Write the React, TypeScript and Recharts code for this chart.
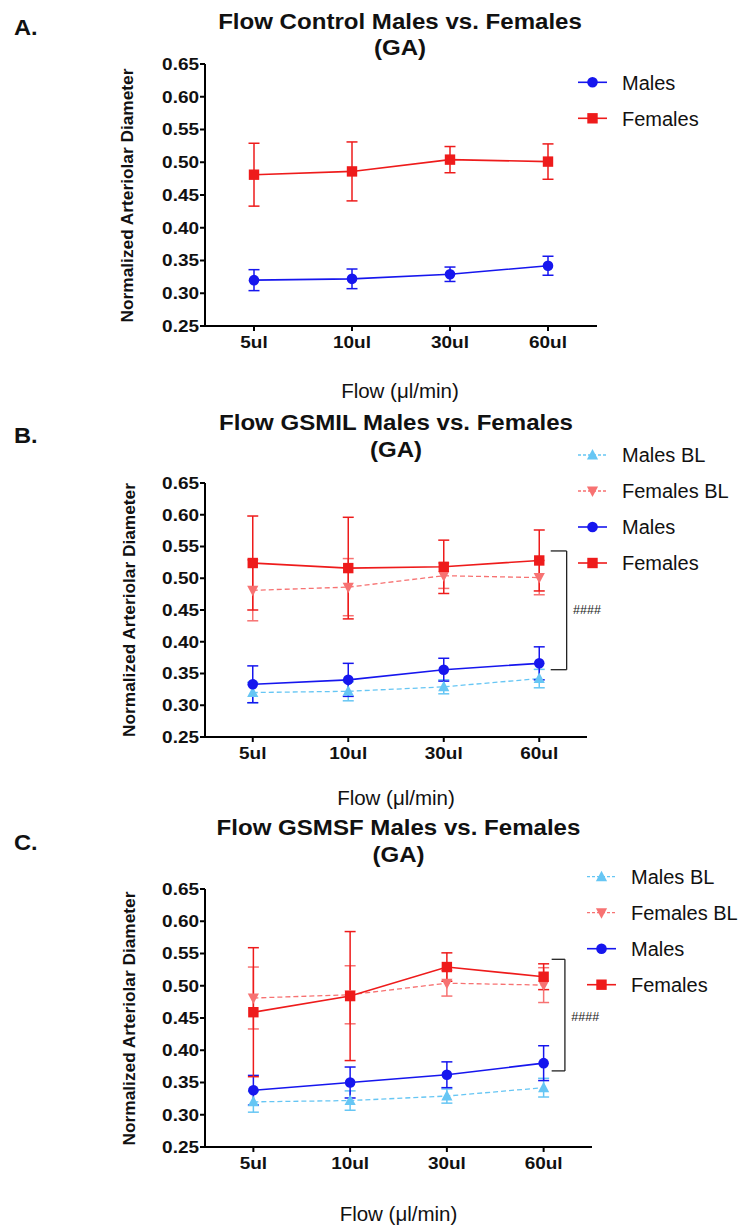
import React from 'react';
import { LineChart, Line, XAxis, YAxis, ErrorBar, ReferenceLine, ReferenceDot } from 'recharts';

// ---------- data ----------
const categories = ['5ul', '10ul', '30ul', '60ul'];
const yTicks = [0.25, 0.3, 0.35, 0.4, 0.45, 0.5, 0.55, 0.6, 0.65];
const xLabel = 'Flow (\u03bcl/min)';
const yLabel = 'Normalized Arteriolar Diameter';

// Panel A: control (also the baseline "BL" series of panels B and C)
const controlMales = [0.32, 0.322, 0.329, 0.342];
const controlMalesErr = [0.016, 0.015, 0.011, 0.0145];
const controlFemales = [0.481, 0.486, 0.504, 0.501];
const controlFemalesErr = [0.048, 0.045, 0.02, 0.027];

// Panel B: GSMIL
const gsmilMales = [0.333, 0.34, 0.356, 0.366];
const gsmilMalesErr = [0.029, 0.026, 0.018, 0.026];
const gsmilFemales = [0.524, 0.516, 0.518, 0.528];
const gsmilFemalesErr = [0.074, 0.08, 0.042, 0.048];

// Panel C: GSMSF
const gsmsfMales = [0.338, 0.35, 0.362, 0.38];
const gsmsfMalesErr = [0.023, 0.024, 0.02, 0.027];
const gsmsfFemales = [0.459, 0.484, 0.529, 0.514];
const gsmsfFemalesErr = [0.1, 0.1, 0.022, 0.02];

// significance brackets [x-start, x-end, y-top, y-bottom, label-x, label-y]
const bracketB = [3.62, 3.787, 0.543, 0.356, 4.0, 0.45];
const bracketC = [3.583, 3.72, 0.541, 0.368, 3.93, 0.453];
const sigLabel = '####';

// ---------- style ----------
const FONT = 'Liberation Sans, Arial, sans-serif';
const C_MALES = '#1616ee';
const C_FEMALES = '#ee1b1b';
const C_MALES_BL = '#66c6f4';
const C_FEMALES_BL = '#f77272';

type Shape = 'circle' | 'square' | 'up' | 'down';
type Series = { key: string; name: string; color: string; dashed: boolean; shape: Shape; values: number[]; errs: number[] };

const Marker = ({ shape, cx, cy, color }: { shape: Shape; cx: number; cy: number; color: string }) => {
  if (shape === 'circle') return <circle cx={cx} cy={cy} r={5.3} fill={color} />;
  if (shape === 'square') return <rect x={cx - 5.2} y={cy - 5.2} width={10.4} height={10.4} fill={color} />;
  if (shape === 'up')
    return <polygon points={`${cx},${cy - 6} ${cx + 5.6},${cy + 4.5} ${cx - 5.6},${cy + 4.5}`} fill={color} />;
  return <polygon points={`${cx},${cy + 6} ${cx + 5.6},${cy - 4.5} ${cx - 5.6},${cy - 4.5}`} fill={color} />;
};

const XTick = (props: any) => {
  const { x, y, payload } = props;
  const label = categories[Math.floor(payload.value)];
  return (
    <g transform={`translate(${x},${y}) scale(1.15,1)`}>
      <text x={0} y={0} dy="0.71em" textAnchor="middle" fontFamily={FONT} fontWeight="bold" fontSize={16.5} fill="#111">
        {label}
      </text>
    </g>
  );
};

const YTick = (props: any) => {
  const { x, y, payload } = props;
  return (
    <g transform={`translate(${x},${y}) scale(1.15,1)`}>
      <text x={0} y={0} dy="0.355em" textAnchor="end" fontFamily={FONT} fontWeight="bold" fontSize={16.5} fill="#111">
        {Number(payload.value).toFixed(2)}
      </text>
    </g>
  );
};

type Panel = {
  top: number;
  height: number;
  plotTop: number;
  plotBottom: number;
  plotRight: number;
  series: Series[];
  bracket?: number[];
};

const PanelChart = ({ p }: { p: Panel }) => {
  const data = categories.map((c, i) => {
    const row: any = { x: i + 0.5, cat: c };
    p.series.forEach((s) => {
      row[s.key] = s.values[i];
      row[s.key + 'Err'] = s.errs[i];
    });
    return row;
  });
  const yAxisW = 60;
  const xAxisH = 30;
  const axisStyle = { stroke: '#000', strokeWidth: 2 };
  return (
    <div style={{ position: 'absolute', left: 0, top: p.top }}>
      <LineChart
        width={741}
        height={p.height}
        data={data}
        margin={{
          top: p.plotTop - p.top,
          right: 741 - p.plotRight,
          bottom: p.top + p.height - p.plotBottom - xAxisH,
          left: 205 - yAxisW,
        }}
      >
        <XAxis
          type="number"
          dataKey="x"
          domain={[0, 4]}
          ticks={[0.5, 1.5, 2.5, 3.5]}
          height={xAxisH}
          axisLine={axisStyle}
          tickLine={axisStyle}
          tickSize={5}
          tickMargin={5}
          tick={<XTick />}
          allowDataOverflow
        />
        <YAxis
          type="number"
          domain={[0.25, 0.65]}
          ticks={yTicks}
          width={yAxisW}
          axisLine={axisStyle}
          tickLine={axisStyle}
          tickSize={5}
          tickMargin={1}
          tick={<YTick />}
          allowDataOverflow
        />
        {p.series.map((s) => (
          <Line
            key={s.key}
            dataKey={s.key}
            name={s.name}
            stroke={s.color}
            strokeWidth={s.dashed ? 1.3 : 1.6}
            strokeDasharray={s.dashed ? '5 3' : undefined}
            isAnimationActive={false}
            dot={(d: any) => <Marker key={`${s.key}-${d.index}`} shape={s.shape} cx={d.cx} cy={d.cy} color={s.color} />}
            activeDot={false}
          >
            <ErrorBar dataKey={s.key + 'Err'} width={5.5} strokeWidth={1.5} stroke={s.color} direction="y" isAnimationActive={false} />
          </Line>
        ))}
        {p.bracket && (
          <ReferenceLine
            segment={[{ x: p.bracket[0], y: p.bracket[2] }, { x: p.bracket[1], y: p.bracket[2] }]}
            stroke="#222"
            strokeWidth={1.3}
            ifOverflow="visible"
          />
        )}
        {p.bracket && (
          <ReferenceLine
            segment={[{ x: p.bracket[1], y: p.bracket[2] }, { x: p.bracket[1], y: p.bracket[3] }]}
            stroke="#222"
            strokeWidth={1.3}
            ifOverflow="visible"
          />
        )}
        {p.bracket && (
          <ReferenceLine
            segment={[{ x: p.bracket[0], y: p.bracket[3] }, { x: p.bracket[1], y: p.bracket[3] }]}
            stroke="#222"
            strokeWidth={1.3}
            ifOverflow="visible"
          />
        )}
        {p.bracket && (
          <ReferenceDot
            x={p.bracket[4]}
            y={p.bracket[5]}
            r={0}
            fill="none"
            stroke="none"
            ifOverflow="visible"
            label={{ value: sigLabel, position: 'center', fontSize: 12.5, fill: '#222', fontFamily: FONT }}
          />
        )}
      </LineChart>
    </div>
  );
};

const seriesA: Series[] = [
  { key: 'males', name: 'Males', color: C_MALES, dashed: false, shape: 'circle', values: controlMales, errs: controlMalesErr },
  { key: 'females', name: 'Females', color: C_FEMALES, dashed: false, shape: 'square', values: controlFemales, errs: controlFemalesErr },
];
const seriesB: Series[] = [
  { key: 'malesBL', name: 'Males BL', color: C_MALES_BL, dashed: true, shape: 'up', values: controlMales, errs: controlMalesErr },
  { key: 'femalesBL', name: 'Females BL', color: C_FEMALES_BL, dashed: true, shape: 'down', values: controlFemales, errs: controlFemalesErr },
  { key: 'males', name: 'Males', color: C_MALES, dashed: false, shape: 'circle', values: gsmilMales, errs: gsmilMalesErr },
  { key: 'females', name: 'Females', color: C_FEMALES, dashed: false, shape: 'square', values: gsmilFemales, errs: gsmilFemalesErr },
];
const seriesC: Series[] = [
  { key: 'malesBL', name: 'Males BL', color: C_MALES_BL, dashed: true, shape: 'up', values: controlMales, errs: controlMalesErr },
  { key: 'femalesBL', name: 'Females BL', color: C_FEMALES_BL, dashed: true, shape: 'down', values: controlFemales, errs: controlFemalesErr },
  { key: 'males', name: 'Males', color: C_MALES, dashed: false, shape: 'circle', values: gsmsfMales, errs: gsmsfMalesErr },
  { key: 'females', name: 'Females', color: C_FEMALES, dashed: false, shape: 'square', values: gsmsfFemales, errs: gsmsfFemalesErr },
];

const panels: Panel[] = [
  { top: 0, height: 400, plotTop: 64, plotBottom: 326, plotRight: 597, series: seriesA },
  { top: 400, height: 400, plotTop: 483, plotBottom: 737, plotRight: 587, series: seriesB, bracket: bracketB },
  { top: 800, height: 426, plotTop: 889, plotBottom: 1147, plotRight: 592, series: seriesC, bracket: bracketC },
];

type Deco = {
  letter: string;
  letterY: number;
  title: string;
  titleX: number;
  titleY: number;
  yLabelX: number;
  yLabelY: number;
  xLabelY: number;
  legendX: number;
  legendY: number;
  series: Series[];
};

const decos: Deco[] = [
  { letter: 'A.', letterY: 35, title: 'Flow Control Males vs. Females', titleX: 400, titleY: 28.5, yLabelX: 133, yLabelY: 195.5, xLabelY: 398, legendX: 578, legendY: 82.3, series: seriesA },
  { letter: 'B.', letterY: 443, title: 'Flow GSMIL Males vs. Females', titleX: 396, titleY: 430, yLabelX: 135, yLabelY: 610, xLabelY: 805, legendX: 578, legendY: 455, series: seriesB },
  { letter: 'C.', letterY: 850, title: 'Flow GSMSF Males vs. Females', titleX: 398.5, titleY: 835, yLabelX: 135, yLabelY: 1018.5, xLabelY: 1221, legendX: 587, legendY: 876.7, series: seriesC },
];

const Overlay = () => (
  <svg width={741} height={1226} style={{ position: 'absolute', left: 0, top: 0, pointerEvents: 'none' }}>
    {decos.map((d, i) => (
      <g key={i} fontFamily={FONT}>
        <g transform={`translate(14,${d.letterY}) scale(1.1,1)`}>
          <text x={0} y={0} fontWeight="bold" fontSize={21.5} fill="#111">
            {d.letter}
          </text>
        </g>
        <g transform={`translate(${d.titleX},${d.titleY}) scale(1.12,1)`}>
          <text x={0} y={0} textAnchor="middle" fontWeight="bold" fontSize={21.5} fill="#111">
            {d.title}
          </text>
        </g>
        <g transform={`translate(${d.titleX},${d.titleY + 26.5}) scale(1.12,1)`}>
          <text x={0} y={0} textAnchor="middle" fontWeight="bold" fontSize={21.5} fill="#111">
            (GA)
          </text>
        </g>
        <text
          transform={`translate(${d.yLabelX},${d.yLabelY}) rotate(-90)`}
          textAnchor="middle"
          fontWeight="bold"
          fontSize={17.3}
          fill="#111"
        >
          {yLabel}
        </text>
        <text x={d.titleX} y={d.xLabelY} textAnchor="middle" fontSize={20.5} fill="#111">
          {xLabel}
        </text>
        {d.series.map((s, j) => {
          const y = d.legendY + j * 36;
          return (
            <g key={s.key}>
              <line
                x1={d.legendX}
                x2={d.legendX + 29}
                y1={y}
                y2={y}
                stroke={s.color}
                strokeWidth={s.dashed ? 1.3 : 1.6}
                strokeDasharray={s.dashed ? '3 2' : undefined}
              />
              <Marker shape={s.shape} cx={d.legendX + 14.5} cy={y} color={s.color} />
              <text x={d.legendX + 44} y={y} dy="0.36em" fontSize={20} fill="#111">
                {s.name}
              </text>
            </g>
          );
        })}
      </g>
    ))}
  </svg>
);

export default function App() {
  return (
    <div style={{ position: 'absolute', left: 0, top: 0, width: 741, height: 1226, background: '#fff', overflow: 'hidden' }}>
      {panels.map((p, i) => (
        <PanelChart key={i} p={p} />
      ))}
      <Overlay />
    </div>
  );
}
